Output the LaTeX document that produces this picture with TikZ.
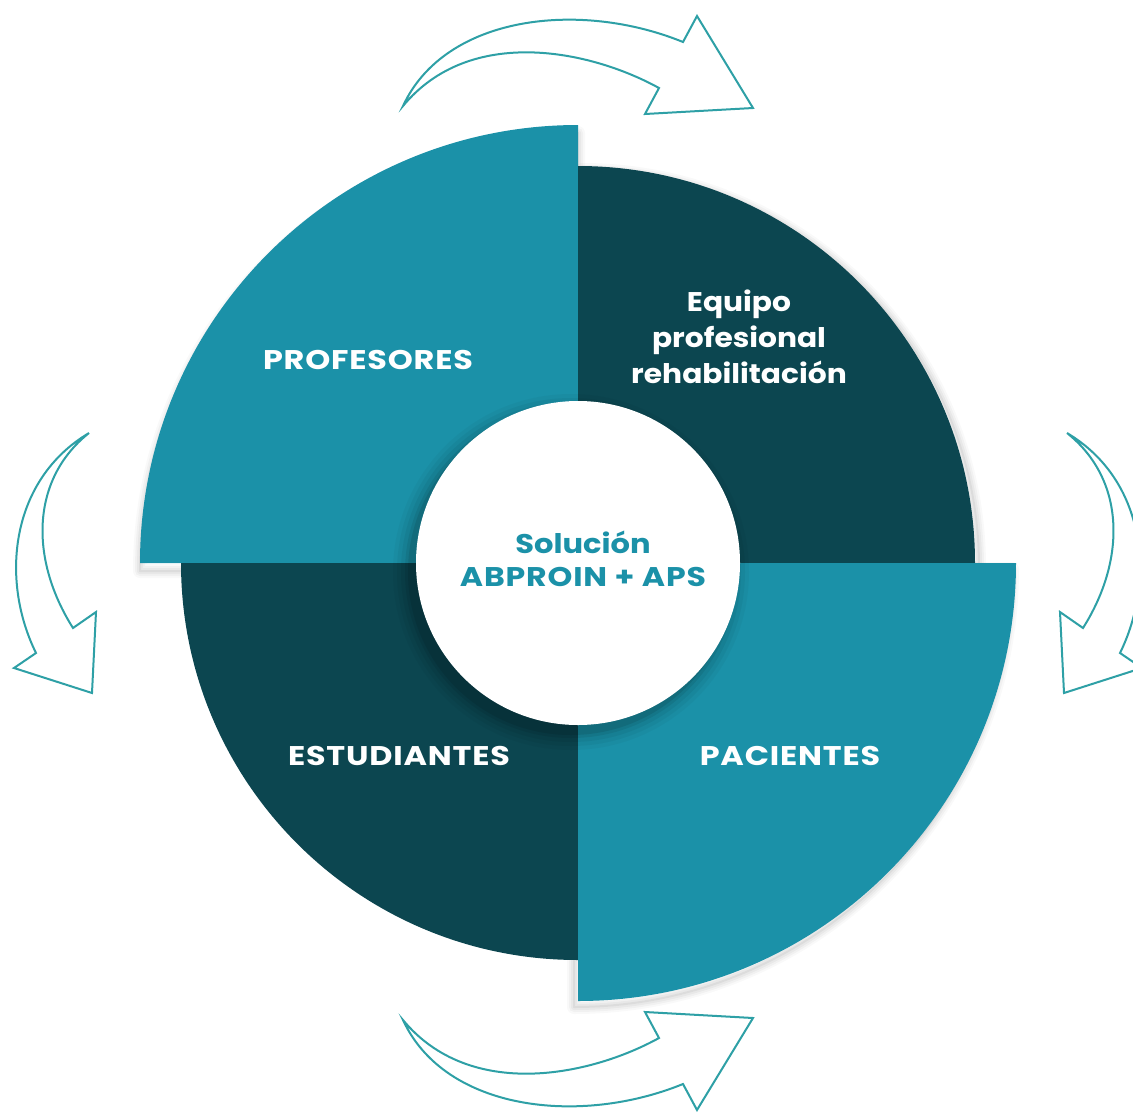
\documentclass[tikz,border=0pt]{standalone}
\usepackage{fontspec}
\setmainfont{Poppins}[BoldFont={Poppins Bold}]
\usetikzlibrary{calc}
\definecolor{lightteal}{RGB}{27,145,168}
\definecolor{darkteal}{RGB}{12,70,80}
\definecolor{arrowteal}{RGB}{46,160,166}
\begin{document}
\begin{tikzpicture}[x=1pt,y=-1pt,
  quadlabel/.style={text=white,font=\bfseries\fontsize{27}{36}\selectfont\addfontfeatures{FakeStretch=1.18,LetterSpace=3},align=center},
  lowlabel/.style={text=white,font=\bfseries\fontsize{27}{36}\selectfont\addfontfeatures{FakeStretch=1.1},align=center},
  centerlabel/.style={text=lightteal,font=\bfseries\fontsize{27}{36}\selectfont,align=center},
  outlinearrow/.style={draw=arrowteal,fill=white,line width=2pt,line join=miter},
  ]
\useasboundingbox (0,0) rectangle (1133,1112);
\clip (0,0) rectangle (1133,1112);
\coordinate (C) at (578,563);
% shadows of quadrants
\foreach \w/\o in {14/0.025,10/0.03,6/0.04,2/0.05}{
  \draw[black,opacity=\o,line width=\w pt,line join=round] (C) ++(0,8) -- ++(-438,0) arc[start angle=180,end angle=270,radius=438] -- cycle;
  \draw[black,opacity=\o,line width=\w pt,line join=round] (C) ++(4,4) -- ++(397,0) arc[start angle=0,end angle=-90,radius=397] -- cycle;
  \draw[black,opacity=\o,line width=\w pt,line join=round] (C) ++(-4,6) -- ++(438,0) arc[start angle=0,end angle=90,radius=438] -- cycle;
}
% quadrants
\fill[lightteal] (C) -- ++(-438,0) arc[start angle=180,end angle=270,radius=438] -- cycle;
\fill[darkteal] (C) -- ++(397,0) arc[start angle=0,end angle=-90,radius=397] -- cycle;
\fill[darkteal] (C) -- ++(-397,0) arc[start angle=180,end angle=90,radius=397] -- cycle;
\fill[lightteal] (C) -- ++(438,0) arc[start angle=0,end angle=90,radius=438] -- cycle;
% inner circle shadow
\foreach \r/\o in {178/0.03,174/0.04,170/0.05,166/0.07,163/0.09}{
  \fill[black,opacity=\o] ($(C)+(-7,9)$) circle[radius=\r];
}
\fill[white] (C) circle[radius=162];
% labels
\node[quadlabel] (prof) at (368,360) {PROFESORES};
\node[lowlabel] (equipo) at (739,337) {Equipo\\profesional\\rehabilitación};
\node[quadlabel] (estud) at (399,756) {ESTUDIANTES};
\node[quadlabel] (pac) at (790,756) {PACIENTES};
\node[centerlabel,font=\bfseries\fontsize{27}{36}\selectfont\addfontfeatures{FakeStretch=1.13}] (sol) at (583,542) {Solución};
\node[centerlabel,font=\bfseries\fontsize{27}{36}\selectfont\addfontfeatures{FakeStretch=1.17,LetterSpace=3}] (abp) at (583,577) {ABPROIN + APS};
% arrows
\draw[outlinearrow] (403,106) .. controls (445,15) and (580,0) .. (683,42)
  -- (697,16) -- (753,108) -- (645,114) -- (659,88)
  .. controls (590,50) and (470,25) .. (403,106) -- cycle;
\draw[outlinearrow] (403,1020) .. controls (445,1111) and (580,1126) .. (683,1084)
  -- (697,1110) -- (753,1018) -- (645,1012) -- (659,1038)
  .. controls (590,1076) and (470,1101) .. (403,1020) -- cycle;
\draw[outlinearrow] (89,433) .. controls (10,480) and (0,580) .. (36,653)
  -- (14,668) -- (92,693) -- (96,612) -- (73,628)
  .. controls (30,560) and (30,480) .. (89,433) -- cycle;
\draw[outlinearrow] (1067,433) .. controls (1146,480) and (1156,580) .. (1120,653)
  -- (1142,668) -- (1064,693) -- (1060,612) -- (1083,628)
  .. controls (1126,560) and (1126,480) .. (1067,433) -- cycle;
\end{tikzpicture}
\end{document}
